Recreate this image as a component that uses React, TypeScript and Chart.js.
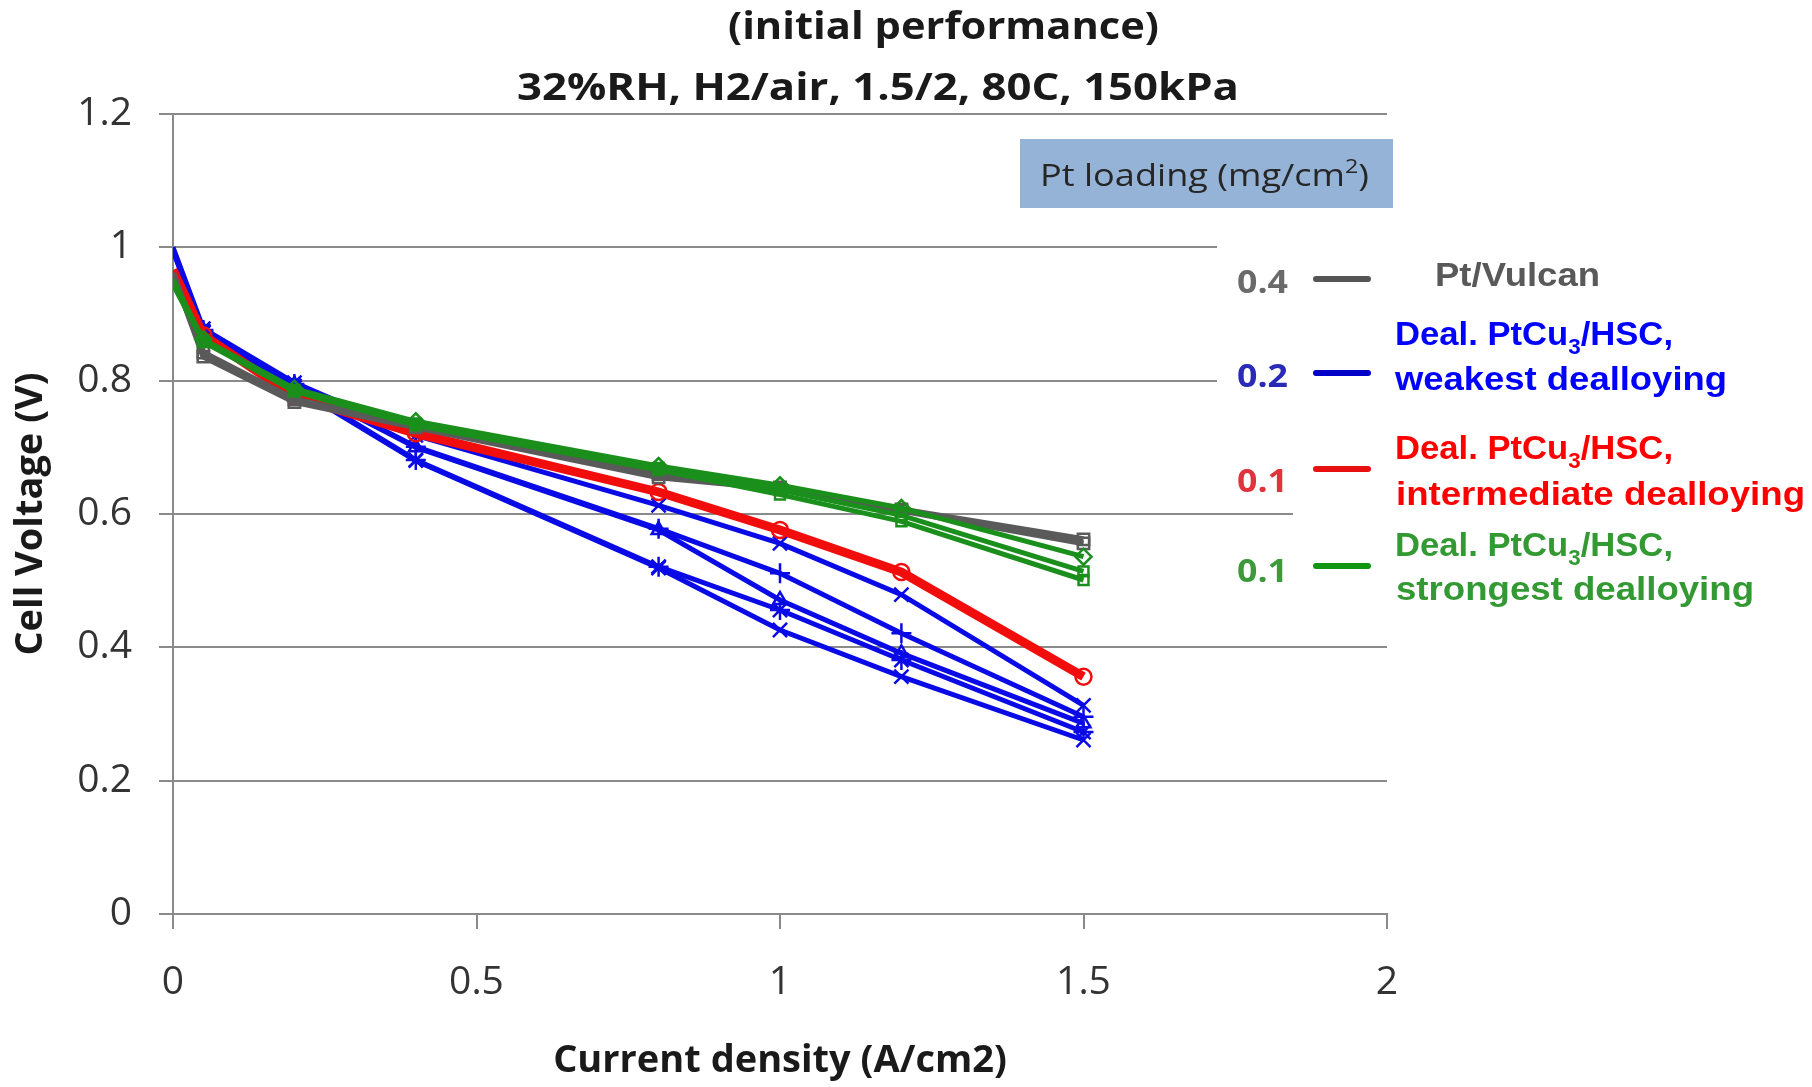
import React, { useEffect, useRef } from "react";
import { Chart, registerables } from "chart.js";

Chart.register(...registerables);

// ---- data ----
const CURRENT = [0, 0.05, 0.2, 0.4, 0.8, 1.0, 1.2, 1.5];

const GREEN_1 = [0.948, 0.862, 0.788, 0.739, 0.672, 0.643, 0.609, 0.536];
const GREEN_2 = [0.952, 0.86, 0.786, 0.736, 0.669, 0.636, 0.598, 0.514];
const GREEN_3 = [0.944, 0.858, 0.784, 0.733, 0.666, 0.629, 0.589, 0.501];

const GRAY_1 = [0.962, 0.836, 0.768, 0.73, 0.655, 0.638, 0.607, 0.562];
const GRAY_2 = [0.958, 0.842, 0.772, 0.733, 0.66, 0.64, 0.605, 0.556];

const RED_1 = [0.966, 0.868, 0.776, 0.721, 0.633, 0.576, 0.513, 0.356];

const BLUE_1 = [1.0, 0.878, 0.797, 0.718, 0.613, 0.556, 0.479, 0.313];
const BLUE_2 = [0.998, 0.876, 0.795, 0.701, 0.578, 0.511, 0.421, 0.296];
const BLUE_3 = [0.997, 0.875, 0.794, 0.7, 0.576, 0.471, 0.391, 0.286];
const BLUE_4 = [0.996, 0.874, 0.792, 0.681, 0.521, 0.456, 0.381, 0.273];
const BLUE_5 = [0.995, 0.872, 0.79, 0.68, 0.519, 0.426, 0.356, 0.261];

const TITLE_1 = "(initial performance)";
const TITLE_2 = "32%RH, H2/air, 1.5/2, 80C, 150kPa";
const X_TITLE = "Current density (A/cm2)";
const Y_TITLE = "Cell Voltage (V)";

const LOADINGS = ["0.4", "0.2", "0.1", "0.1"];
const LEGEND_COLORS = ["#595959", "#0000ff", "#ff0000", "#339933"];
const LOADING_COLORS = ["#6a6a6a", "#2a2ab8", "#e2323c", "#3c9a3c"];
const DASH_COLORS = ["#555555", "#0000c8", "#e81010", "#129612"];

const GREEN = "#1b8f1b";
const GRAY = "#5a5a5a";
const RED = "#f20d0d";
const BLUE = "#0a0ae6";

const mk = (vals: number[]) => CURRENT.map((x, i) => ({ x, y: vals[i] }));

type Seg = { t: string; size: number; dy?: number };

function drawRich(
  ctx: CanvasRenderingContext2D,
  segs: Seg[],
  x: number,
  y: number,
  family: string,
  weight: string,
  color: string,
  targetW?: number,
  align: "left" | "center" = "left"
) {
  ctx.save();
  ctx.textAlign = "left";
  ctx.textBaseline = "alphabetic";
  let total = 0;
  const widths = segs.map((s) => {
    ctx.font = `${weight} ${s.size}px ${family}`;
    const w = ctx.measureText(s.t).width;
    total += w;
    return w;
  });
  const sx = targetW ? targetW / total : 1;
  const left = align === "center" ? x - (total * sx) / 2 : x;
  ctx.translate(left, y);
  ctx.scale(sx, 1);
  ctx.fillStyle = color;
  let cx = 0;
  segs.forEach((s, i) => {
    ctx.font = `${weight} ${s.size}px ${family}`;
    ctx.fillText(s.t, cx, s.dy || 0);
    cx += widths[i];
  });
  ctx.restore();
}

const overlayPlugin = {
  id: "overlay",
  afterDraw(chart: any) {
    const ctx: CanvasRenderingContext2D = chart.ctx;
    ctx.save();
    // white areas behind the legend (gridlines stop there)
    ctx.fillStyle = "#ffffff";
    ctx.fillRect(1217, 215, 600, 230);
    ctx.fillRect(1293, 445, 520, 120);

    // titles
    const OS = "'Open Sans', sans-serif";
    const LS = "'Liberation Sans', Arial, sans-serif";
    drawRich(ctx, [{ t: TITLE_1, size: 38 }], 728, 39, OS, "bold", "#1a1a1a", 431);
    drawRich(ctx, [{ t: TITLE_2, size: 38 }], 517, 100, OS, "bold", "#1a1a1a", 722);

    // Pt loading box
    ctx.fillStyle = "#95b3d7";
    ctx.fillRect(1020, 139, 373, 69);
    drawRich(
      ctx,
      [
        { t: "Pt loading (mg/cm", size: 31 },
        { t: "2", size: 20, dy: -13 },
        { t: ")", size: 31 },
      ],
      1040,
      186,
      OS,
      "normal",
      "#262626",
      329
    );

    // loading numbers
    const numBase = [293, 387, 492, 582];
    LOADINGS.forEach((t, i) => {
      drawRich(ctx, [{ t, size: 32 }], 1237, numBase[i], OS, "bold", LOADING_COLORS[i], 51);
    });

    // dashes
    const dashY = [279, 373, 469, 566];
    ctx.lineCap = "round";
    ctx.lineWidth = 6;
    dashY.forEach((y, i) => {
      ctx.strokeStyle = DASH_COLORS[i];
      ctx.beginPath();
      ctx.moveTo(1316, y);
      ctx.lineTo(1368, y);
      ctx.stroke();
    });

    // legend labels
    drawRich(ctx, [{ t: "Pt/Vulcan", size: 33 }], 1435, 286, LS, "bold", LEGEND_COLORS[0], 165);
    const deal = (c: string, y: number) =>
      drawRich(
        ctx,
        [
          { t: "Deal. PtCu", size: 34 },
          { t: "3", size: 22, dy: 9 },
          { t: "/HSC,", size: 34 },
        ],
        1395,
        y,
        LS,
        "bold",
        c,
        278
      );
    deal(LEGEND_COLORS[1], 345);
    drawRich(ctx, [{ t: "weakest dealloying", size: 34 }], 1395, 390, LS, "bold", LEGEND_COLORS[1], 332);
    deal(LEGEND_COLORS[2], 459);
    drawRich(ctx, [{ t: "intermediate dealloying", size: 34 }], 1396, 505, LS, "bold", LEGEND_COLORS[2], 409);
    deal(LEGEND_COLORS[3], 556);
    drawRich(ctx, [{ t: "strongest dealloying", size: 34 }], 1396, 600, LS, "bold", LEGEND_COLORS[3], 358);
    ctx.restore();
  },
};

const fmt = (v: number) => String(Math.round(v * 100) / 100);

export default function App() {
  const ref = useRef<HTMLCanvasElement | null>(null);

  useEffect(() => {
    if (!ref.current) return;
    const ds = (vals: number[], color: string, width: number, style: string, radius = 8) => ({
      data: mk(vals),
      borderColor: color,
      backgroundColor: color,
      borderWidth: width,
      pointStyle: style,
      pointRadius: CURRENT.map((x) => (x === 0 ? 0 : radius)),
      pointBorderWidth: 2.5,
      pointBorderColor: color,
      pointBackgroundColor: "rgba(255,255,255,0)",
      tension: 0,
      fill: false,
    });
    const chart = new Chart(ref.current, {
      type: "line",
      data: {
        datasets: [
          ds(GREEN_1, GREEN, 5, "rectRot"),
          ds(GREEN_2, GREEN, 5, "rect", 7),
          ds(GREEN_3, GREEN, 5, "rect", 7),
          ds(GRAY_1, GRAY, 6, "rect"),
          ds(GRAY_2, GRAY, 6, "rect"),
          ds(RED_1, RED, 9, "circle"),
          ds(BLUE_1, BLUE, 5, "crossRot", 10),
          ds(BLUE_2, BLUE, 5, "cross", 10),
          ds(BLUE_3, BLUE, 5, "triangle", 8),
          ds(BLUE_4, BLUE, 5, "star", 10),
          ds(BLUE_5, BLUE, 5, "crossRot", 10),
        ] as any,
      },
      options: {
        animation: false,
        responsive: false,
        devicePixelRatio: 1,
        layout: { padding: { top: 114, right: 425, left: 0, bottom: 0 } },
        plugins: {
          legend: { display: false },
          tooltip: { enabled: false },
          title: { display: false },
        },
        scales: {
          x: {
            type: "linear",
            min: 0,
            max: 2,
            afterFit: (s: any) => {
              s.height = 173;
            },
            ticks: {
              stepSize: 0.5,
              padding: 30,
              maxRotation: 0,
              autoSkip: false,
              color: "#333333",
              font: { family: "'Open Sans', sans-serif", size: 39 },
              callback: (v: any) => fmt(Number(v)),
            },
            grid: {
              drawOnChartArea: false,
              drawTicks: true,
              tickLength: 15,
              color: "#8a8a8a",
              lineWidth: 2,
            },
            border: { display: true, color: "#8a8a8a", width: 2 },
            title: {
              display: true,
              text: X_TITLE,
              color: "#1a1a1a",
              font: { family: "'Open Sans', sans-serif", size: 38, weight: "bold" },
              padding: { top: 0, bottom: 3 },
            },
          },
          y: {
            type: "linear",
            min: 0,
            max: 1.2,
            afterFit: (s: any) => {
              s.width = 173;
            },
            ticks: {
              stepSize: 0.2,
              padding: 27,
              color: "#333333",
              font: { family: "'Open Sans', sans-serif", size: 39 },
              callback: (v: any) => fmt(Number(v)),
            },
            grid: {
              color: "#8a8a8a",
              lineWidth: 2,
              tickLength: 14,
            },
            border: { display: true, color: "#8a8a8a", width: 2 },
            title: {
              display: true,
              text: Y_TITLE,
              color: "#1a1a1a",
              font: { family: "'Open Sans', sans-serif", size: 38, weight: "bold" },
              padding: { top: 8, bottom: 0 },
            },
          },
        },
      } as any,
      plugins: [overlayPlugin],
    });
    return () => chart.destroy();
  }, []);

  return (
    <div style={{ position: "absolute", left: 0, top: 0, width: 1812, height: 1087, background: "#fff" }}>
      <canvas ref={ref} width={1812} height={1087} style={{ display: "block", width: 1812, height: 1087 }} />
    </div>
  );
}
